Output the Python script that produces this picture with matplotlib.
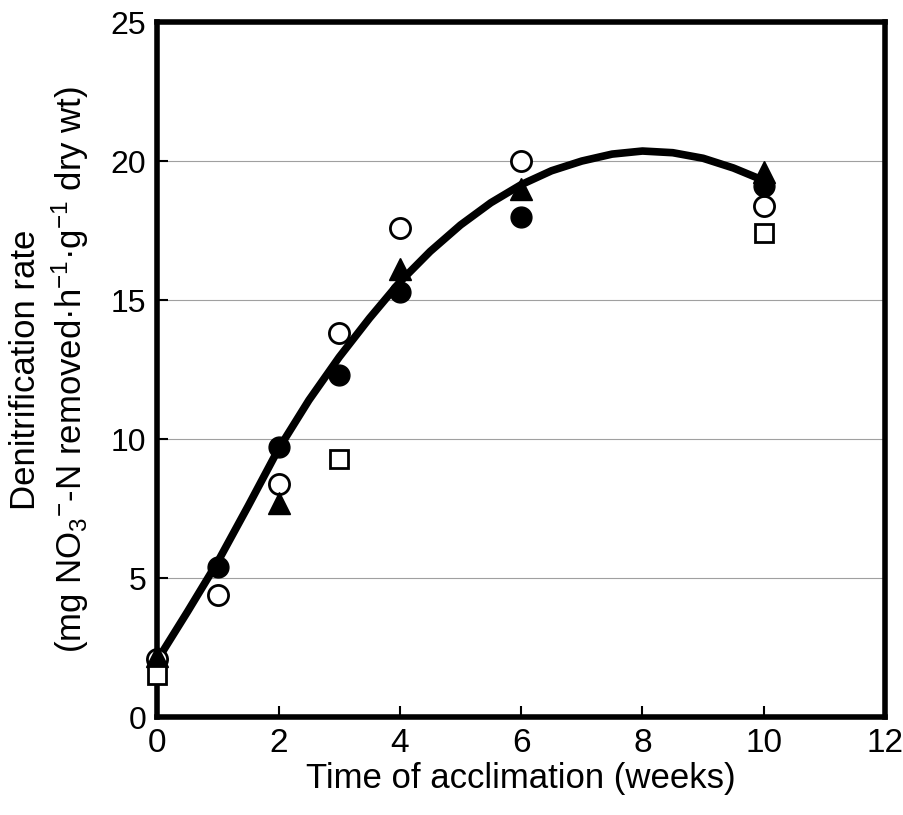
import numpy as np
import matplotlib
matplotlib.use('Agg')
import matplotlib.pyplot as plt

# ******************* data *******************

# open circles
open_circ_x = [0, 1, 2, 3, 4, 6, 10]
open_circ_y = [2.1, 4.4, 8.4, 13.8, 17.6, 20.0, 18.4]

# filled circles
fill_circ_x = [1, 2, 3, 4, 6, 10]
fill_circ_y = [5.4, 9.7, 12.3, 15.3, 18.0, 19.1]

# filled triangles
tri_x = [0, 2, 4, 6, 10]
tri_y = [2.2, 7.7, 16.1, 19.0, 19.6]

# open squares
sq_x = [0, 3, 10]
sq_y = [1.5, 9.3, 17.4]

# drawn trend curve
curve_x = [0, 0.5, 1, 1.5, 2, 2.5, 3, 3.5, 4, 4.5, 5, 5.5, 6, 6.5, 7, 7.5,
           8, 8.5, 9, 9.5, 10]
curve_y = [2.05, 3.8, 5.6, 7.6, 9.65, 11.4, 12.95, 14.35, 15.65, 16.75,
           17.7, 18.5, 19.15, 19.65, 20.0, 20.25, 20.36, 20.3, 20.1, 19.75,
           19.3]

x_ticks = [0, 2, 4, 6, 8, 10, 12]
y_ticks = [0, 5, 10, 15, 20, 25]

# ******************* plotting *******************

plt.rcParams['font.family'] = ['Liberation Sans', 'DejaVu Sans']
plt.rcParams['mathtext.default'] = 'regular'

fig = plt.figure(figsize=(9.04, 8.15), dpi=100)
ax = fig.add_axes([0.174, 0.120, 0.805, 0.853])

# horizontal grid lines
for yv in y_ticks[1:-1]:
    ax.axhline(yv, color='#a0a0a0', lw=0.8, zorder=1)

# trend curve
ax.plot(curve_x, curve_y, color='black', lw=5.5, zorder=3,
        solid_joinstyle='round', solid_capstyle='round', clip_on=False)

ax.plot(open_circ_x, open_circ_y, 'o', mfc='white', mec='black', mew=2,
        ms=14.5, zorder=4, clip_on=False)
ax.plot(fill_circ_x, fill_circ_y, 'o', color='black', ms=15, zorder=4,
        clip_on=False)
ax.plot(tri_x, tri_y, '^', color='black', ms=16, zorder=4, clip_on=False)
ax.plot(sq_x, sq_y, 's', mfc='white', mec='black', mew=2, ms=13,
        zorder=5, clip_on=False)

ax.set_xlim(0, 12)
ax.set_ylim(0, 25)
ax.set_xticks(x_ticks)
ax.set_yticks(y_ticks)
ax.tick_params(axis='both', direction='in', length=8, width=1.5, pad=8)
ax.tick_params(axis='x', labelsize=24)
ax.tick_params(axis='y', labelsize=23)

for sp in ax.spines.values():
    sp.set_linewidth(4)

ax.set_xlabel("Time of acclimation (weeks)", fontsize=25, labelpad=2)
ax.set_ylabel("Denitrification rate\n"
              "(mg NO$_3$$^{-}$-N removed·h$^{-1}$·g$^{-1}$ dry wt)",
              fontsize=25, labelpad=14, linespacing=1.25)

plt.savefig("out.png", dpi=100)
